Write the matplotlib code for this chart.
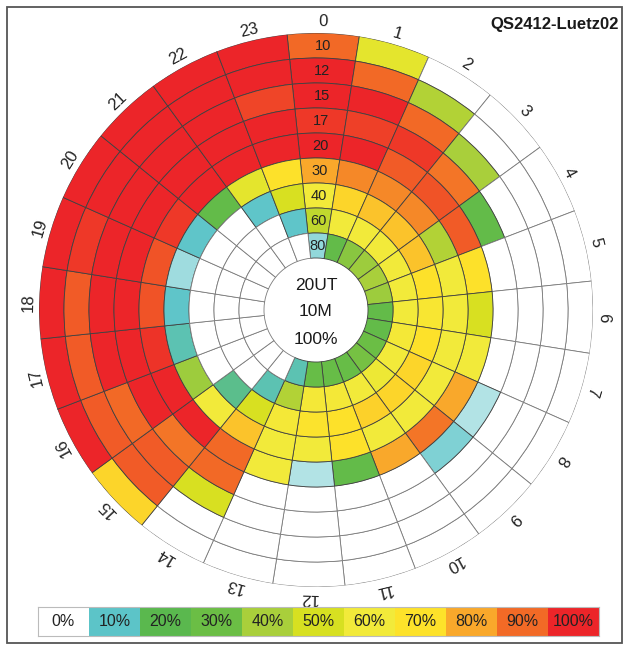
import numpy as np
import matplotlib
matplotlib.use('Agg')
import matplotlib.pyplot as plt
from matplotlib.colors import LinearSegmentedColormap
from matplotlib.patches import Rectangle

plt.rcParams['font.family'] = ['Liberation Sans', 'DejaVu Sans']

# hours (UT) around the circle, bands (m) from outer ring to inner ring
hours = list(range(24))
bands = ['10', '12', '15', '17', '20', '30', '40', '60', '80']

# opening percentage per hour, one list per band
pct_10m = [90, 55, 0, 0, 0, 0, 0, 0, 0, 0, 0, 0, 0, 0, 0, 72, 100, 100, 100, 100, 100, 100, 100, 100]
pct_12m = [100, 90, 42, 0, 0, 0, 0, 0, 0, 0, 0, 0, 0, 0, 0, 92, 92, 92, 92, 97, 100, 100, 100, 100]
pct_15m = [100, 100, 90, 40, 0, 0, 0, 0, 0, 0, 0, 0, 0, 0, 50, 92, 90, 100, 100, 100, 100, 100, 100, 95]
pct_17m = [97, 96, 97, 88, 25, 0, 0, 0, 5, 8, 0, 0, 0, 0, 90, 88, 100, 100, 100, 100, 100, 100, 100, 100]
pct_20m = [100, 100, 92, 93, 92, 70, 50, 60, 80, 88, 80, 25, 5, 60, 90, 100, 100, 98, 93, 93, 97, 100, 100, 100]
pct_30m = [80, 85, 85, 85, 42, 60, 60, 60, 60, 60, 60, 70, 60, 60, 75, 60, 38, 12, 10, 6, 10, 25, 55, 70]
pct_40m = [60, 72, 75, 75, 75, 70, 65, 70, 72, 72, 73, 70, 68, 62, 50, 15, 0, 0, 0, 0, 0, 0, 10, 50]
pct_60m = [45, 60, 60, 60, 60, 60, 60, 62, 60, 58, 60, 62, 62, 42, 12, 0, 0, 0, 0, 0, 0, 0, 0, 10]
pct_80m = [7, 25, 35, 38, 40, 38, 25, 25, 30, 32, 28, 28, 28, 12, 0, 0, 0, 0, 0, 0, 0, 0, 0, 0]

levels = [0, 10, 20, 30, 40, 50, 60, 70, 80, 90, 100]
level_colors = ['#ffffff', '#5cc4c8', '#5ab84e', '#6bbe45', '#a9cf3b', '#d7e021',
                '#f2ea3a', '#fde22a', '#f9a82b', '#f26a26', '#ec2529']

title = 'QS2412-Luetz02'
center_lines = ['20UT', '10M', '100%']

cmap = LinearSegmentedColormap.from_list(
    'prop', [(v / 100, c) for v, c in zip(levels, level_colors)])

fig = plt.figure(figsize=(6.26, 6.47), dpi=100)
W, H = 626, 647
cx, cy, R = 316, 310, 277
hole, ring_w = 52, 25

ax = fig.add_axes([(cx - R) / W, (H - cy - R) / H, 2 * R / W, 2 * R / H], projection='polar')
ax.set_theta_zero_location('N')
ax.set_theta_direction(-1)
ax.set_ylim(0, R)
ax.set_axis_off()

all_bands = [pct_10m, pct_12m, pct_15m, pct_17m, pct_20m, pct_30m, pct_40m, pct_60m, pct_80m]
offset = 1.5
theta = np.radians(np.array(hours) * 15 + offset)
for k, vals in enumerate(all_bands):
    bottom = hole + ring_w * (len(bands) - 1 - k)
    colors = [cmap(v / 100) for v in vals]
    edges = ['#7a7a7a' if v == 0 else '#404040' for v in vals]
    ax.bar(theta, ring_w, width=np.radians(15), bottom=bottom, color=colors,
           edgecolor=edges, linewidth=0.6, align='center')
    # band label in the hour-0 column
    ax.text(np.radians(offset), bottom + ring_w / 2, bands[k], ha='center', va='center',
            fontsize=10.5, color='#222222')

for h in hours:
    ang = h * 15 + offset
    ax.text(np.radians(ang), 288, str(h), ha='center', va='center', fontsize=12,
            color='#222222', rotation=-ang, rotation_mode='anchor')

for i, line in enumerate(center_lines):
    fig.text(cx / W, 1 - (285 + 27 * i) / H, line, ha='center', va='center',
             fontsize=12.5, color='#1a1a1a')

fig.text(619 / W, 1 - 25 / H, title, ha='right', va='center', fontsize=12,
         fontweight='bold', color='#1a1a1a')

# legend strip
lax = fig.add_axes([38 / W, (H - 636) / H, (599 - 38) / W, 29 / H])
for i, v in enumerate(levels):
    lax.bar(i, 1, width=1, bottom=0, color=level_colors[i], edgecolor='none', align='edge')
    lax.text(i + 0.5, 0.5, f'{v}%', ha='center', va='center', fontsize=11.5, color='#222222')
lax.set_xlim(0, len(levels))
lax.set_ylim(0, 1)
lax.set_xticks([])
lax.set_yticks([])
for s in lax.spines.values():
    s.set_color('#bbbbbb')
    s.set_linewidth(0.8)

fig.patches.append(Rectangle((7 / W, 4 / H), 615 / W, 636 / H, transform=fig.transFigure,
                             fill=False, edgecolor='#555555', linewidth=1.3))

fig.savefig('out.png', dpi=100)
